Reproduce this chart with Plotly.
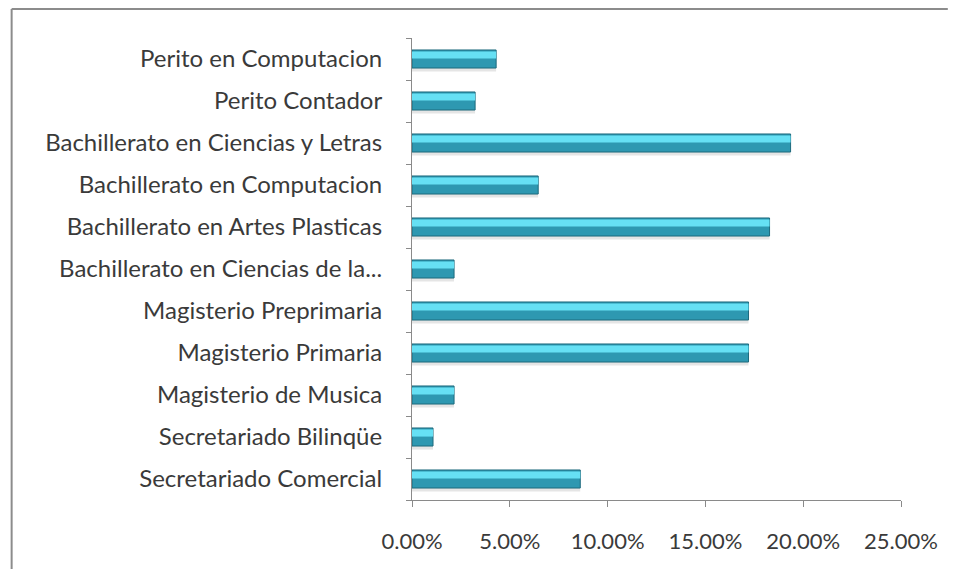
import plotly.graph_objects as go

categories = [
    "Secretariado Comercial",
    "Secretariado Bilinqüe",
    "Magisterio de Musica",
    "Magisterio Primaria",
    "Magisterio Preprimaria",
    "Bachillerato en Ciencias de la...",
    "Bachillerato en Artes Plasticas",
    "Bachillerato en Computacion",
    "Bachillerato en Ciencias y Letras",
    "Perito Contador",
    "Perito en Computacion",
]
counts = [8, 1, 2, 16, 16, 2, 17, 6, 18, 3, 4]
total = sum(counts)
values = [c / total for c in counts]
x_ticks = [0, 0.05, 0.10, 0.15, 0.20, 0.25]
x_tick_labels = ["0.00%", "5.00%", "10.00%", "15.00%", "20.00%", "25.00%"]

# page has an 8px body margin on every side
W, H = 942, 561
L, R, T, B = 404, 47, 30, 69
pw, ph = W - L - R, H - T - B

fig = go.Figure()
fig.add_trace(go.Bar(
    y=categories, x=values, orientation="h",
    width=0.43, offset=-0.30,
    marker=dict(color="rgba(0,0,0,0.10)", line=dict(width=0)),
    hoverinfo="skip", showlegend=False,
))
fig.add_trace(go.Bar(
    y=categories, x=values, orientation="h",
    width=0.43, offset=-0.215,
    marker=dict(color="#2e98b1", line=dict(color="#1d6a7d", width=1)),
    showlegend=False,
))
fig.add_trace(go.Bar(
    y=categories, x=values, orientation="h",
    width=0.17, offset=0.01,
    marker=dict(color="#66e0f4", line=dict(width=0)),
    hoverinfo="skip", showlegend=False,
))

x_left = (2 - L) / pw
y_top = (T + ph - 1) / ph
fig.update_layout(
    width=W, height=H,
    margin=dict(l=L, r=R, t=T, b=B),
    barmode="overlay",
    plot_bgcolor="white",
    paper_bgcolor="white",
    font=dict(family="Lato, Carlito, sans-serif", size=22, color="#3a3a3a"),
    xaxis=dict(
        range=[0, 0.25],
        tickvals=x_ticks, ticktext=x_tick_labels,
        tickfont=dict(size=22),
        showgrid=False, zeroline=False,
        showline=True, linecolor="#8a8a8a", linewidth=1,
        ticks="outside", ticklen=6, tickcolor="#8a8a8a",
        ticklabelstandoff=16,
        fixedrange=True,
    ),
    yaxis=dict(
        type="category",
        categoryorder="array", categoryarray=categories,
        range=[-0.5, len(categories) - 0.5],
        tickfont=dict(size=24),
        showgrid=False, zeroline=False,
        showline=True, linecolor="#8a8a8a", linewidth=1,
        ticks="outside", ticklen=5, tickcolor="#8a8a8a",
        tickson="boundaries",
        ticklabelstandoff=24,
        fixedrange=True,
    ),
    shapes=[
        dict(type="line", xref="paper", yref="paper",
             x0=x_left, x1=(W - L) / pw, y0=y_top, y1=y_top,
             line=dict(color="#8c8c8c", width=2), layer="below"),
        dict(type="line", xref="paper", yref="paper",
             x0=x_left, x1=x_left, y0=-B / ph, y1=y_top,
             line=dict(color="#8c8c8c", width=2), layer="below"),
    ],
)

fig.write_html("out.html")
